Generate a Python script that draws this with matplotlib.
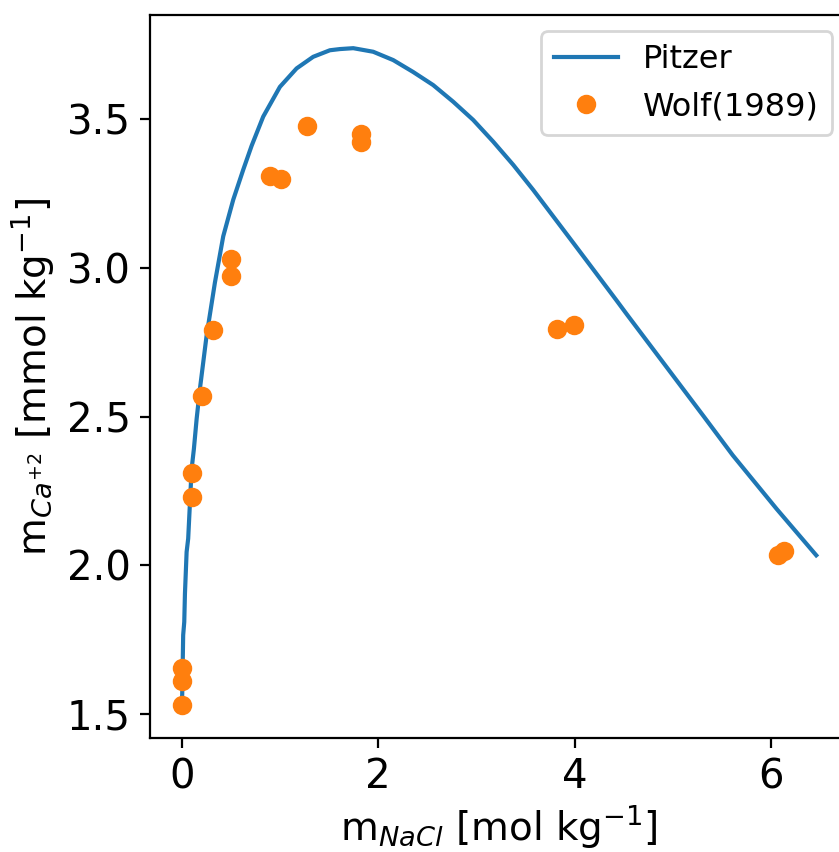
import matplotlib
matplotlib.use('Agg')
import matplotlib.pyplot as plt

# Pitzer model curve, Ca+2 solubility vs NaCl molality
m_nacl_model = [0.0, 0.003, 0.013, 0.024, 0.031, 0.048, 0.064, 0.099, 0.122, 0.15,
                0.183, 0.251, 0.336, 0.421, 0.523, 0.625, 0.71, 0.828, 0.998,
                1.168, 1.337, 1.507, 1.609, 1.745, 1.948, 2.152, 2.355, 2.559,
                2.763, 2.966, 3.17, 3.374, 3.577, 3.781, 3.985, 4.188, 4.427,
                4.528, 5.003, 5.309, 5.61, 6.056, 6.46]
m_ca_model = [1.55, 1.565, 1.766, 1.81, 1.905, 2.045, 2.09, 2.324, 2.391, 2.492,
              2.592, 2.771, 2.95, 3.106, 3.229, 3.33, 3.41, 3.508, 3.608,
              3.67, 3.709, 3.731, 3.735, 3.738, 3.726, 3.698, 3.658, 3.614,
              3.558, 3.497, 3.424, 3.346, 3.262, 3.173, 3.084, 2.995, 2.89,
              2.845, 2.637, 2.503, 2.37, 2.19, 2.034]

# Wolf (1989) measurements
m_nacl_exp = [0.0, 0.0, 0.0, 0.10, 0.10, 0.204, 0.316, 0.502, 0.502, 0.896, 1.005,
              1.27, 1.82, 1.82, 3.815, 3.995, 6.07, 6.13]
m_ca_exp = [1.531, 1.612, 1.654, 2.311, 2.231, 2.569, 2.79, 3.029, 2.971, 3.309, 3.298,
            3.477, 3.449, 3.424, 2.796, 2.807, 2.034, 2.05]

plt.rcParams['font.size'] = 14
plt.rcParams['xtick.labelsize'] = 14.5
plt.rcParams['ytick.labelsize'] = 14.5
plt.rcParams['legend.fontsize'] = 11.5

fig = plt.figure(figsize=(839/200, 852/200), dpi=200)
ax = fig.add_subplot(1, 1, 1)
# right spine sits just past the saved image edge
fig.subplots_adjust(left=0.179, right=1.0107, top=0.982, bottom=0.134)

ax.plot(m_nacl_model, m_ca_model, label='Pitzer')
ax.plot(m_nacl_exp, m_ca_exp, 'o', label='Wolf(1989)')
ax.set_xlabel(r'm$_{NaCl}$ [mol kg$^{-1}$]', labelpad=2)
ax.set_ylabel(r'm$_{Ca^{+2}}$ [mmol kg$^{-1}$]')
ax.set_xticks([0, 2, 4, 6])
ax.set_yticks([1.5, 2.0, 2.5, 3.0, 3.5])
ax.legend(loc='upper right')

fig.savefig('out.png', dpi=200)
